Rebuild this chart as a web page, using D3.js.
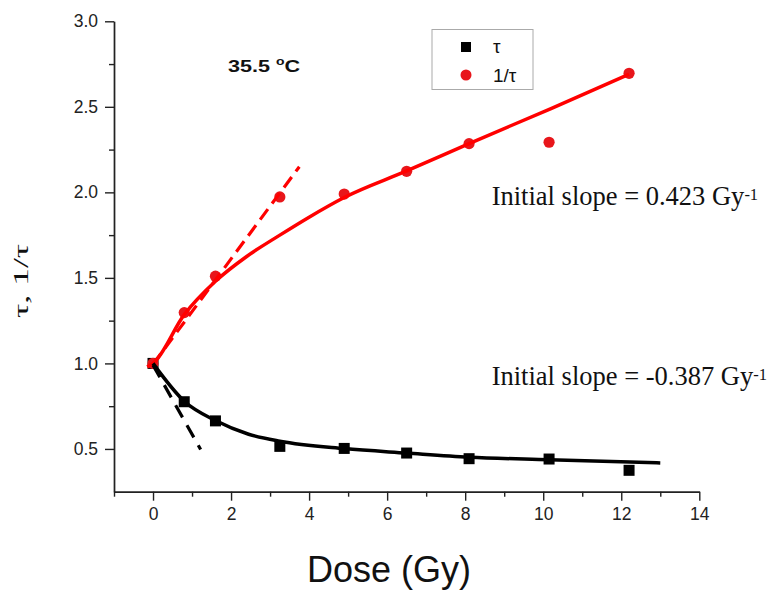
<!DOCTYPE html>
<html>
<head>
<meta charset="utf-8">
<script src="https://cdn.jsdelivr.net/npm/d3@7"></script>
<style>
  body { margin: 0; background: #fff; }
  svg { display: block; }
</style>
</head>
<body>
<svg id="chart" width="770" height="590"></svg>
<script>
// Measured lifetimes at 35.5 °C versus dose
const doses  = [0, 0.8, 1.6, 3.25, 4.9, 6.5, 8.1, 10.15, 12.2];
const tau    = [1.0, 0.776, 0.664, 0.515, 0.503, 0.476, 0.443, 0.441, 0.375];
const invTau = [1.0, 1.297, 1.51, 1.973, 1.99, 2.123, 2.285, 2.293, 2.696];

// Fitted curves
const tauFitDose = [0, 0.8, 1.6, 2.45, 3.25, 4.9, 6.5, 8.1, 10.15, 13.0];
const tauFit     = [1.0, 0.779, 0.666, 0.586, 0.545, 0.502, 0.476, 0.452, 0.437, 0.418];
const invFitDose = [-0.15, 0, 0.8, 1.6, 2.4, 3.25, 4.0, 4.9, 6.5, 8.1, 10.2, 12.2];
const invFit     = [0.98, 1.0, 1.285, 1.48, 1.625, 1.75, 1.855, 1.97, 2.125, 2.285, 2.49, 2.69];

// Initial-slope tangent segments
const tauTangentDose = [0, 1.22];
const tauTangent     = [0.99, 0.497];
const invTangentDose = [0, 3.75];
const invTangent     = [0.995, 2.15];

// Axis ticks
const xMajor = [0, 2, 4, 6, 8, 10, 12, 14];
const xMinor = [-1, 1, 3, 5, 7, 9, 11, 13];
const yMajor = [0.5, 1.0, 1.5, 2.0, 2.5, 3.0];
const yMinor = [0.75, 1.25, 1.75, 2.25, 2.75];

const svg = d3.select("#chart");
const x = d3.scaleLinear().domain([-1, 14]).range([114, 699.3]);
const y = d3.scaleLinear().domain([0.25, 3.0]).range([491.7, 21.3]);

const sans = "'Liberation Sans', Arial, sans-serif";
const serif = "'Liberation Serif', 'Times New Roman', serif";

// Axes
function styleAxis(g) {
  g.select(".domain").attr("stroke", "#222").attr("stroke-width", 1.4);
  g.selectAll(".tick line").attr("stroke", "#222").attr("stroke-width", 1.4);
  g.selectAll(".tick text").attr("fill", "#222").style("font-family", sans).style("font-size", "17.5px");
}
svg.append("g").attr("transform", `translate(0,${y(0.25)})`)
  .call(d3.axisBottom(x).tickValues(xMinor).tickSize(5).tickSizeOuter(0).tickFormat(""))
  .call(styleAxis);
svg.append("g").attr("transform", `translate(0,${y(0.25)})`)
  .call(d3.axisBottom(x).tickValues(xMajor).tickSize(9).tickSizeOuter(0).tickPadding(7).tickFormat(d3.format("d")))
  .call(styleAxis);
svg.append("g").attr("transform", `translate(${x(-1)},0)`)
  .call(d3.axisLeft(y).tickValues(yMinor).tickSize(5).tickSizeOuter(0).tickFormat(""))
  .call(styleAxis);
svg.append("g").attr("transform", `translate(${x(-1)},0)`)
  .call(d3.axisLeft(y).tickValues(yMajor).tickSize(9).tickSizeOuter(0).tickPadding(7).tickFormat(d3.format(".1f")))
  .call(styleAxis);

// Axis titles
svg.append("text")
  .attr("x", 389).attr("y", 581.5)
  .attr("text-anchor", "middle")
  .style("font-family", sans).style("font-size", "36px").attr("fill", "#111")
  .text("Dose (Gy)");

svg.append("text")
  .attr("transform", "translate(28,281) rotate(-90) scale(1.7,1)")
  .attr("text-anchor", "middle")
  .style("font-family", serif).style("font-size", "21px").attr("fill", "#111")
  .text("τ, 1/τ");

// Points
svg.append("g").selectAll("rect")
  .data(doses.map((d, i) => [d, tau[i]]))
  .join("rect")
  .attr("x", d => x(d[0]) - 5.5).attr("y", d => y(d[1]) - 5.5)
  .attr("width", 11).attr("height", 11)
  .attr("fill", "#000");

svg.append("g").selectAll("circle")
  .data(doses.map((d, i) => [d, invTau[i]]))
  .join("circle")
  .attr("cx", d => x(d[0])).attr("cy", d => y(d[1]))
  .attr("r", 5.6)
  .attr("fill", "#e8161b");

// Fits and tangents
const line = d3.line().x(d => x(d[0])).y(d => y(d[1])).curve(d3.curveMonotoneX);
const straight = d3.line().x(d => x(d[0])).y(d => y(d[1]));

svg.append("path")
  .attr("d", line(invFitDose.map((d, i) => [d, invFit[i]])))
  .attr("fill", "none").attr("stroke", "#ff0000").attr("stroke-width", 3.5);
svg.append("path")
  .attr("d", straight(invTangentDose.map((d, i) => [d, invTangent[i]])))
  .attr("fill", "none").attr("stroke", "#ff0000").attr("stroke-width", 3.2)
  .attr("stroke-dasharray", "13,7");

svg.append("path")
  .attr("d", line(tauFitDose.map((d, i) => [d, tauFit[i]])))
  .attr("fill", "none").attr("stroke", "#000").attr("stroke-width", 3.5);
svg.append("path")
  .attr("d", straight(tauTangentDose.map((d, i) => [d, tauTangent[i]])))
  .attr("fill", "none").attr("stroke", "#000").attr("stroke-width", 3.2)
  .attr("stroke-dasharray", "14,9");

// Temperature label
const temp = svg.append("g").attr("transform", "translate(228,71.7) scale(1.27,1)")
  .append("text")
  .style("font-family", sans).style("font-weight", "bold").style("font-size", "17px").attr("fill", "#111");
temp.append("tspan").text("35.5 ");
temp.append("tspan").style("font-size", "11px").attr("dy", -7).text("o");
temp.append("tspan").attr("dy", 7).text("C");

// Slope annotations
function slopeNote(yPos, value) {
  const t = svg.append("text")
    .attr("x", 491.7).attr("y", yPos)
    .style("font-family", serif).style("font-size", "26.5px").attr("fill", "#111");
  t.append("tspan").text(`Initial slope = ${value} Gy`);
  t.append("tspan").style("font-size", "16.5px").attr("dy", -5).text("-1");
}
slopeNote(205, "0.423");
slopeNote(385, "-0.387");

// Legend
const legend = svg.append("g");
legend.append("rect")
  .attr("x", 432).attr("y", 29.5).attr("width", 101).attr("height", 60)
  .attr("fill", "#fff").attr("stroke", "#aaa").attr("stroke-width", 1);
legend.append("rect")
  .attr("x", 461).attr("y", 42).attr("width", 10).attr("height", 10).attr("fill", "#000");
legend.append("circle")
  .attr("cx", 466).attr("cy", 75).attr("r", 5.5).attr("fill", "#e8161b");
legend.append("text").attr("x", 493).attr("y", 53)
  .style("font-family", sans).style("font-size", "19px").attr("fill", "#111").text("τ");
legend.append("text").attr("x", 493).attr("y", 82)
  .style("font-family", sans).style("font-size", "19px").attr("fill", "#111").text("1/τ");
</script>
</body>
</html>
